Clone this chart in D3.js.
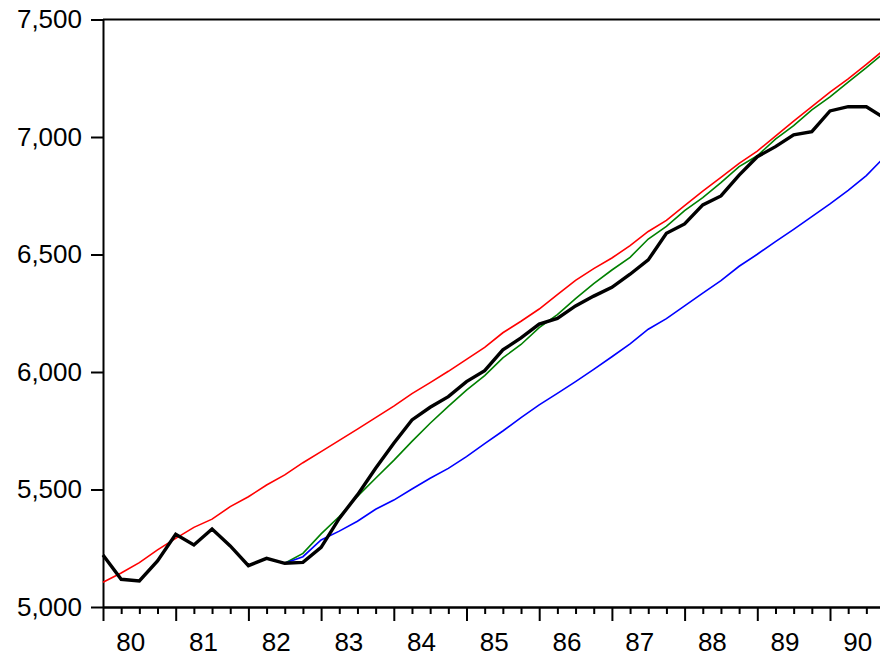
<!DOCTYPE html>
<html>
<head>
<meta charset="utf-8">
<script src="https://unpkg.com/d3@7/dist/d3.min.js"></script>
<style>
  body { margin: 0; background: #fff; }
  svg { display: block; font-family: "Liberation Sans", Arial, sans-serif; }
</style>
</head>
<body>
<div id="chart"></div>
<script>
// quarterly data, 1980Q1 .. 1990Q4
const startYear = 1980;
const actual = [
  5221, 5118, 5111, 5196,
  5309, 5264, 5332, 5260,
  5176, 5207, 5186, 5190,
  5254, 5377, 5477, 5590,
  5697, 5796, 5850, 5895,
  5959, 6006, 6094, 6145,
  6204, 6228, 6281, 6323,
  6360, 6416, 6477, 6590,
  6630, 6711, 6749, 6838,
  6916, 6959, 7009, 7023,
  7111, 7129, 7129, 7081
];
const trend = [
  5105, 5145, 5189, 5243,
  5292, 5339, 5374, 5427,
  5469, 5519, 5562, 5614,
  5661, 5709, 5757, 5806,
  5855, 5908, 5955, 6003,
  6054, 6105, 6167, 6216,
  6268, 6329, 6390, 6440,
  6485, 6538, 6598, 6645,
  6708, 6770, 6828, 6888,
  6940, 7004, 7068, 7129,
  7191, 7247, 7309, 7373
];
// forecasts start at 1982Q3 (index 10)
const forecastStart = 10;
const forecastGreen = [
  5186, 5228, 5311, 5385, 5471, 5548, 5624, 5705, 5782, 5854,
  5923, 5985, 6060, 6117, 6189, 6244, 6312, 6376, 6434, 6488,
  6566, 6620, 6687, 6742, 6806, 6874, 6920, 6991, 7048, 7115,
  7171, 7233, 7295, 7360
];
const forecastBlue = [
  5186, 5214, 5285, 5323, 5365, 5416, 5455, 5502, 5548, 5590,
  5640, 5695, 5749, 5806, 5860, 5909, 5959, 6011, 6065, 6120,
  6182, 6227, 6281, 6336, 6389, 6450, 6501, 6555, 6607, 6661,
  6715, 6773, 6836, 6915
];
const yearLabels = ["80", "81", "82", "83", "84", "85", "86", "87", "88", "89", "90"];
const yTicks = [5000, 5500, 6000, 6500, 7000, 7500];

const W = 880, H = 656;
const pad = { left: 103, top: 19.5, bottom: 607 };
const fontSize = 26;

const svg = d3.select("#chart").append("svg")
  .attr("width", W)
  .attr("height", H);

const t = i => startYear + i / 4;

const x = d3.scaleLinear()
  .domain([1980, 1980 + (W - pad.left) / 72.7])
  .range([pad.left, W]);

const y = d3.scaleLinear()
  .domain([5000, 7500])
  .range([pad.bottom, pad.top]);

// y axis
const yAxis = d3.axisLeft(y)
  .tickValues(yTicks)
  .tickFormat(d3.format(","))
  .tickSize(12)
  .tickSizeOuter(0)
  .tickPadding(9);

const gy = svg.append("g")
  .attr("transform", `translate(${pad.left},0)`)
  .call(yAxis);
gy.selectAll("text").style("font-size", fontSize + "px").attr("fill", "#000");
gy.selectAll("line, path").attr("stroke", "#000").attr("stroke-width", 2);

// top frame line
svg.append("line")
  .attr("x1", pad.left).attr("x2", W)
  .attr("y1", y(7500)).attr("y2", y(7500))
  .attr("stroke", "#000").attr("stroke-width", 2);

// x axis: major ticks at Q1, minor ticks at other quarters
const years = d3.range(1980, 1991);
const quarters = d3.range(0, 43).map(t).filter(d => d % 1 !== 0);

const gxMinor = svg.append("g")
  .attr("transform", `translate(0,${pad.bottom})`)
  .call(d3.axisBottom(x).tickValues(quarters).tickSize(7).tickSizeOuter(0).tickFormat(""));

const gxMajor = svg.append("g")
  .attr("transform", `translate(0,${pad.bottom})`)
  .call(d3.axisBottom(x).tickValues(years).tickSize(14).tickSizeOuter(0).tickFormat(""));

[gxMinor, gxMajor].forEach(g => g.selectAll("line, path").attr("stroke", "#000").attr("stroke-width", 2));

const gxLabels = svg.append("g")
  .attr("transform", `translate(0,${pad.bottom})`)
  .call(d3.axisBottom(x)
    .tickValues(years.map(d => d + 0.375))
    .tickSize(0)
    .tickPadding(26)
    .tickFormat((d, i) => yearLabels[i]));
gxLabels.select(".domain").remove();
gxLabels.selectAll("text").style("font-size", fontSize + "px").attr("fill", "#000");

// lines
const line = d3.line()
  .x(d => x(d.t))
  .y(d => y(d.v));

const series = [
  { values: trend, offset: 0, color: "#ff0000", width: 1.6 },
  { values: forecastGreen, offset: forecastStart, color: "#008000", width: 1.6 },
  { values: forecastBlue, offset: forecastStart, color: "#0000ff", width: 1.6 },
  { values: actual, offset: 0, color: "#000000", width: 3.4 }
];

svg.selectAll("path.series")
  .data(series)
  .enter()
  .append("path")
  .attr("class", "series")
  .attr("fill", "none")
  .attr("stroke", d => d.color)
  .attr("stroke-width", d => d.width)
  .attr("stroke-linejoin", "miter")
  .attr("d", d => line(d.values.map((v, i) => ({ t: t(i + d.offset), v: v }))));
</script>
</body>
</html>
